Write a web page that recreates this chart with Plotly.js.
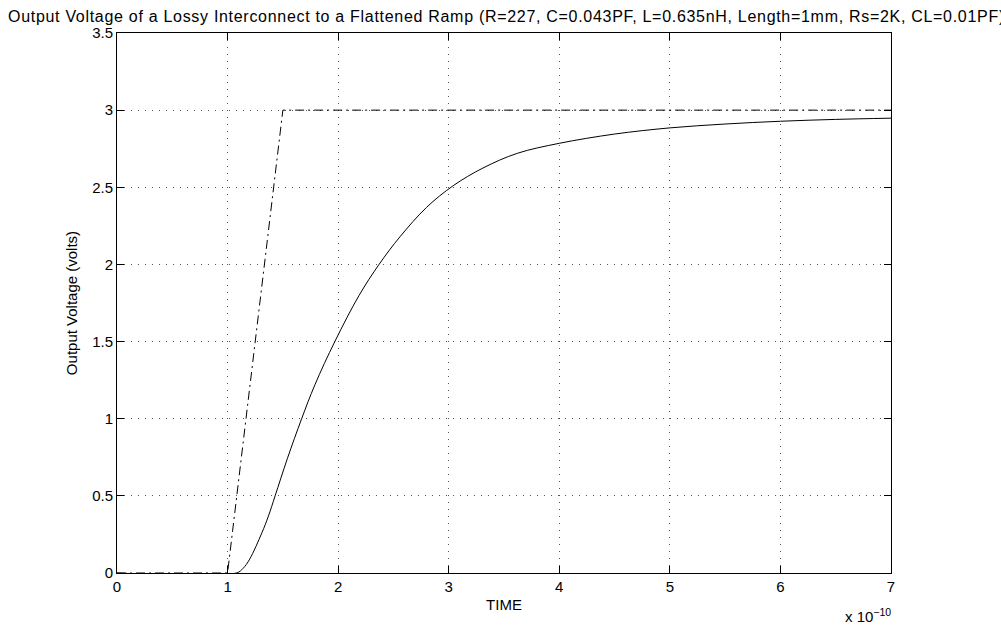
<!DOCTYPE html>
<html>
<head>
<meta charset="utf-8">
<script src="https://cdn.plot.ly/plotly-3.0.1.min.js"></script>
<style>
html,body{margin:0;padding:0;background:#fff;}
#chart{width:1001px;height:626px;}
#chart .gtitle{letter-spacing:0.7px;}
</style>
</head>
<body>
<div id="chart"></div>
<script>
// Input flattened ramp (time in units of 1e-10 s, volts)
var inputTime = [0, 1.0, 1.5, 7.0];
var inputVolt = [0, 0, 3.0, 3.0];

// Output voltage of lossy interconnect
var outTime = [0, 1.08, 1.14, 1.20, 1.31, 1.37, 1.43, 1.54, 1.67, 1.79, 1.97, 2.19, 2.37, 2.56, 2.80, 3.04, 3.31, 3.62, 4.00, 4.50, 5.00, 5.50, 6.00, 6.50, 7.00];
var outVolt = [0, 0, 0.03, 0.09, 0.26, 0.37, 0.50, 0.74, 1.00, 1.22, 1.50, 1.80, 2.00, 2.18, 2.37, 2.51, 2.625, 2.72, 2.785, 2.845, 2.885, 2.91, 2.928, 2.94, 2.948];

var xTicks = [0, 1, 2, 3, 4, 5, 6, 7];
var yTicks = [0, 0.5, 1, 1.5, 2, 2.5, 3, 3.5];
var yTickLabels = ['0', '0.5', '1', '1.5', '2', '2.5', '3', '3.5'];

var titleText = 'Output Voltage of a Lossy Interconnect to a Flattened Ramp (R=227, C=0.043PF, L=0.635nH, Length=1mm, Rs=2K, CL=0.01PF)';

var FONT = 'Liberation Sans, Arial, Helvetica, sans-serif';

var traces = [
  {
    x: inputTime, y: inputVolt, type: 'scatter', mode: 'lines',
    line: {color: '#000', width: 1, dash: '9px,4px,2px,4px'},
    hoverinfo: 'skip', showlegend: false
  },
  {
    x: outTime, y: outVolt, type: 'scatter', mode: 'lines',
    line: {color: '#000', width: 1, shape: 'spline', smoothing: 1},
    hoverinfo: 'skip', showlegend: false
  }
];

var axisCommon = {
  showline: true, linecolor: '#000', linewidth: 1, mirror: 'ticks',
  ticks: 'inside', ticklen: 7, tickcolor: '#000', tickwidth: 1,
  showgrid: true, gridcolor: '#555', gridwidth: 1, griddash: '1px,6px',
  zeroline: false,
  tickfont: {family: FONT, size: 15, color: '#000'}
};

var layout = {
  width: 1001, height: 626,
  margin: {l: 117, r: 110, t: 33, b: 53},
  paper_bgcolor: '#fff', plot_bgcolor: '#fff',
  font: {family: FONT, color: '#000'},
  title: {
    text: titleText,
    font: {family: FONT, size: 16, color: '#000'},
    xref: 'container', yref: 'container',
    x: 8 / 1001, xanchor: 'left',
    y: 1 - 16 / 626, yanchor: 'middle'
  },
  xaxis: Object.assign({}, axisCommon, {
    range: [0, 7], tickmode: 'array', tickvals: xTicks,
    ticktext: xTicks.map(String),
    title: {text: 'TIME', font: {family: FONT, size: 15, color: '#000'}, standoff: 5}
  }),
  yaxis: Object.assign({}, axisCommon, {
    range: [0, 3.5], tickmode: 'array', tickvals: yTicks, ticktext: yTickLabels,
    title: {text: 'Output Voltage (volts)', font: {family: FONT, size: 15, color: '#000'}, standoff: 10}
  }),
  annotations: [{
    text: 'x 10<sup>\u221210</sup>',
    xref: 'paper', yref: 'paper', x: 1.0, y: 0,
    xanchor: 'right', yanchor: 'top', yshift: -31, xshift: 2,
    showarrow: false,
    font: {family: FONT, size: 15, color: '#000'}
  }]
};

Plotly.newPlot('chart', traces, layout, {staticPlot: true, displayModeBar: false});
</script>
</body>
</html>
